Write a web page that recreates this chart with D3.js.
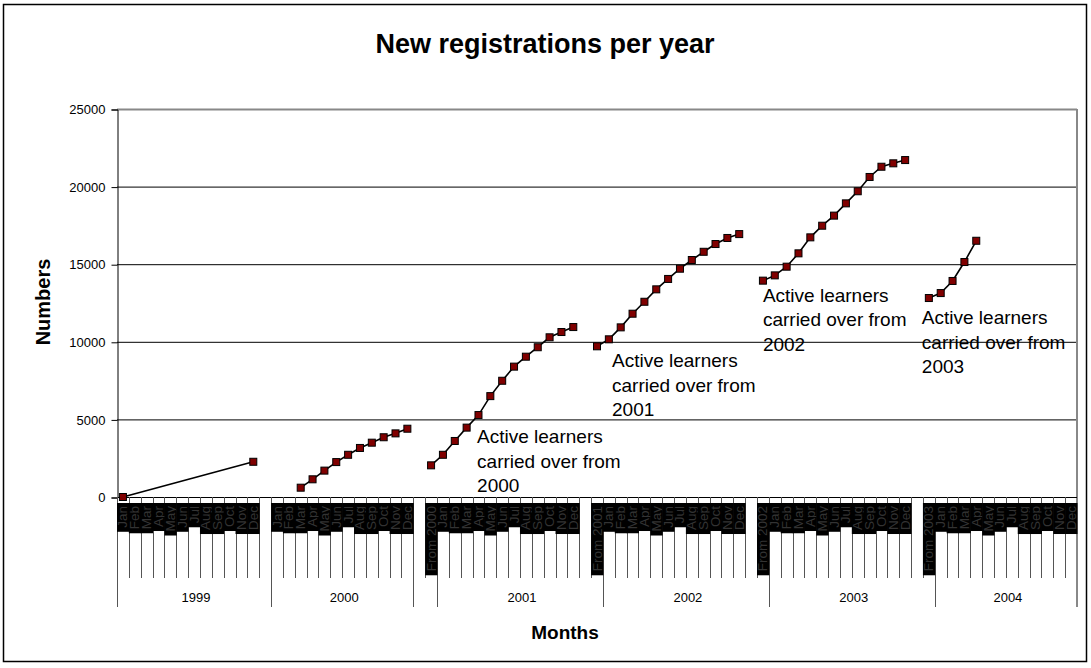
<!DOCTYPE html>
<html>
<head>
<meta charset="utf-8">
<script src="https://cdn.jsdelivr.net/npm/d3@7/dist/d3.min.js"></script>
<style>
  body { margin: 0; background: #fff; }
  text { font-family: Arial, 'Liberation Sans', sans-serif; }
</style>
</head>
<body>
<script>
let width = 1091,
    height = 668

// categories: two-level axis, month under year
const months = ['Jan', 'Feb', 'Mar', 'Apr', 'May', 'Jun', 'Jul', 'Aug', 'Sep', 'Oct', 'Nov', 'Dec']
const groupYears = ['1999', '2000', '', '2001', '2002', '2003', '2004']
const groupCats = [
  [...months, ''],
  months,
  ['', 'From 2000'],
  [...months, '', 'From 2001'],
  [...months, '', 'From 2002'],
  [...months, '', 'From 2003'],
  months
]
const yTicks = [0, 5000, 10000, 15000, 20000, 25000]

// values
const vals1999 = [0, 2270]
const vals2000 = [600, 1140, 1700, 2250, 2720, 3160, 3500, 3850, 4100, 4400]
const vals2001 = [2040, 2720, 3610, 4470, 5280, 6500, 7490, 8400, 9040, 9650, 10290, 10630, 10950]
const vals2002 = [9710, 10160, 10930, 11810, 12580, 13380, 14050, 14710, 15270, 15800, 16300, 16690, 16940]
const vals2003 = [13940, 14280, 14840, 15700, 16730, 17480, 18130, 18920, 19700, 20620, 21280, 21500, 21710]
const vals2004 = [12820, 13140, 13920, 15140, 16510]

const series = [
  { keys: ['1999|Jan', '1999|Dec'], values: vals1999 },
  { start: '2000|Mar', values: vals2000 },
  { start: '|From 2000', values: vals2001 },
  { start: '2001|From 2001', values: vals2002 },
  { start: '2002|From 2002', values: vals2003 },
  { start: '2003|From 2003', values: vals2004 }
]

const notes = [
  { series: 2, lines: ['Active learners', 'carried over from', '2000'] },
  { series: 3, lines: ['Active learners', 'carried over from', '2001'] },
  { series: 4, lines: ['Active learners', 'carried over from', '2002'] },
  { series: 5, lines: ['Active learners', 'carried over from', '2003'] }
]
// where each note sits, relative to its series' first point
const noteOffsets = [[46, -22], [15, 21], [0, 21], [-7, 26]]

let svg = d3.select('body').append('svg')
    .attr('width', width)
    .attr('height', height)

const plot = {left: 117, right: 1077, top: 109, bottom: 497}

let catKeys = []
groupCats.forEach((cats, g) => cats.forEach(c => catKeys.push(groupYears[g] + '|' + c)))

const x = d3.scaleBand().domain(catKeys).range([plot.left, plot.right])
const y = d3.scaleLinear().domain([0, 25000]).range([plot.bottom, plot.top])
const cx = k => x(k) + x.bandwidth() / 2

// outer frame
svg.append('rect')
    .attr('x', 3.5).attr('y', 4.5)
    .attr('width', 1083).attr('height', 657)
    .style('fill', '#fff')
    .style('stroke', '#000')
    .style('stroke-width', 1.5)

svg.append('text')
    .attr('x', 545).attr('y', 53)
    .attr('text-anchor', 'middle')
    .style('font-size', '27px')
    .style('font-weight', 'bold')
    .text('New registrations per year')

// gridlines
svg.append('g').selectAll('line')
    .data(yTicks.filter(d => d > 0))
    .join('line')
    .attr('x1', plot.left).attr('x2', plot.right)
    .attr('y1', d => y(d) + 0.5).attr('y2', d => y(d) + 0.5)
    .style('stroke', (d, i, a) => i == a.length - 1 ? '#888' : '#000')
    .style('stroke-width', (d, i, a) => i == a.length - 1 ? 2 : 1)

// right border of plot area
svg.append('line')
    .attr('x1', plot.right).attr('x2', plot.right)
    .attr('y1', plot.top).attr('y2', plot.bottom + 110)
    .style('stroke', '#888')
    .style('stroke-width', 2)

// y axis
let yAxis = svg.append('g')
    .attr('transform', 'translate(' + (plot.left + 0.5) + ',0.5)')
    .call(d3.axisLeft(y).tickValues(yTicks).tickSize(6).tickPadding(6).tickFormat(d3.format('d')))
yAxis.select('.domain').style('stroke', '#000')
yAxis.selectAll('text')
    .style('font-size', '13px')
    .style('font-family', 'Arial, Liberation Sans, sans-serif')
    .attr('fill', '#000')

svg.append('text')
    .attr('transform', 'translate(50,302) rotate(-90)')
    .attr('text-anchor', 'middle')
    .style('font-size', '20px')
    .style('font-weight', 'bold')
    .text('Numbers')

// x axis line
svg.append('line')
    .attr('x1', plot.left).attr('x2', plot.right)
    .attr('y1', plot.bottom + 0.5).attr('y2', plot.bottom + 0.5)
    .style('stroke', '#000')

// category ticks (between categories)
svg.append('g').selectAll('line')
    .data(catKeys.slice(1))
    .join('line')
    .attr('x1', d => Math.round(x(d)) + 0.5).attr('x2', d => Math.round(x(d)) + 0.5)
    .attr('y1', plot.bottom).attr('y2', plot.bottom + 81)
    .style('stroke', '#555')

// group separators
let groupEdges = []
let acc = 0
groupCats.forEach(c => { groupEdges.push(acc); acc += c.length })
svg.append('g').selectAll('line')
    .data(groupEdges)
    .join('line')
    .attr('x1', d => Math.round(x(catKeys[d])) + 0.5).attr('x2', d => Math.round(x(catKeys[d])) + 0.5)
    .attr('y1', plot.bottom).attr('y2', plot.bottom + 110)
    .style('stroke', '#555')

// month labels: rotated, on black highlight
let labels = svg.append('g').selectAll('g')
    .data(catKeys.filter(k => k.split('|')[1] !== ''))
    .join('g')
labels.append('rect')
    .attr('class', 'hl')
labels.append('text')
    .attr('transform', d => 'translate(' + (cx(d) + 4.5) + ',' + (plot.bottom + 9) + ') rotate(-90)')
    .attr('text-anchor', 'end')
    .style('font-size', '13.5px')
    .style('fill', '#333')
    .text(d => d.split('|')[1])
labels.each(function(d) {
  let len = d3.select(this).select('text').node().getComputedTextLength()
  d3.select(this).select('rect')
    .attr('x', x(d))
    .attr('y', plot.bottom + 6)
    .attr('width', x.bandwidth() + 0.5)
    .attr('height', len + 7)
    .style('fill', '#000')
})

// year labels
svg.append('g').selectAll('text')
    .data(groupEdges)
    .join('text')
    .attr('x', (d, i) => x(catKeys[d]) + groupCats[i].length * x.bandwidth() / 2 + 2)
    .attr('y', 602)
    .attr('text-anchor', 'middle')
    .style('font-size', '13px')
    .text((d, i) => groupYears[i])

svg.append('text')
    .attr('x', 565).attr('y', 639)
    .attr('text-anchor', 'middle')
    .style('font-size', '19px')
    .style('font-weight', 'bold')
    .text('Months')

// series
const seriesPoints = series.map(s => {
  let keys = s.keys || catKeys.slice(catKeys.indexOf(s.start), catKeys.indexOf(s.start) + s.values.length)
  return keys.map((k, i) => ({k: k, v: s.values[i]}))
})

const line = d3.line().x(d => cx(d.k)).y(d => y(d.v))

svg.append('g').selectAll('path')
    .data(seriesPoints)
    .join('path')
    .attr('d', line)
    .style('fill', 'none')
    .style('stroke', '#000')
    .style('stroke-width', 1.6)

svg.append('g').selectAll('rect')
    .data(seriesPoints.flat())
    .join('rect')
    .attr('x', d => cx(d.k) - 3.5)
    .attr('y', d => y(d.v) - 3.5)
    .attr('width', 7)
    .attr('height', 7)
    .style('fill', '#800000')
    .style('stroke', '#000')
    .style('stroke-width', 1)

// notes
notes.forEach((n, i) => {
  let p = seriesPoints[n.series][0]
  let t = svg.append('text')
      .attr('x', cx(p.k) + noteOffsets[i][0])
      .attr('y', y(p.v) + noteOffsets[i][1])
      .style('font-size', '19px')
  n.lines.forEach((l, j) => {
    t.append('tspan')
      .attr('x', cx(p.k) + noteOffsets[i][0])
      .attr('dy', j == 0 ? 0 : 24.5)
      .text(l)
  })
})
</script>
</body>
</html>
